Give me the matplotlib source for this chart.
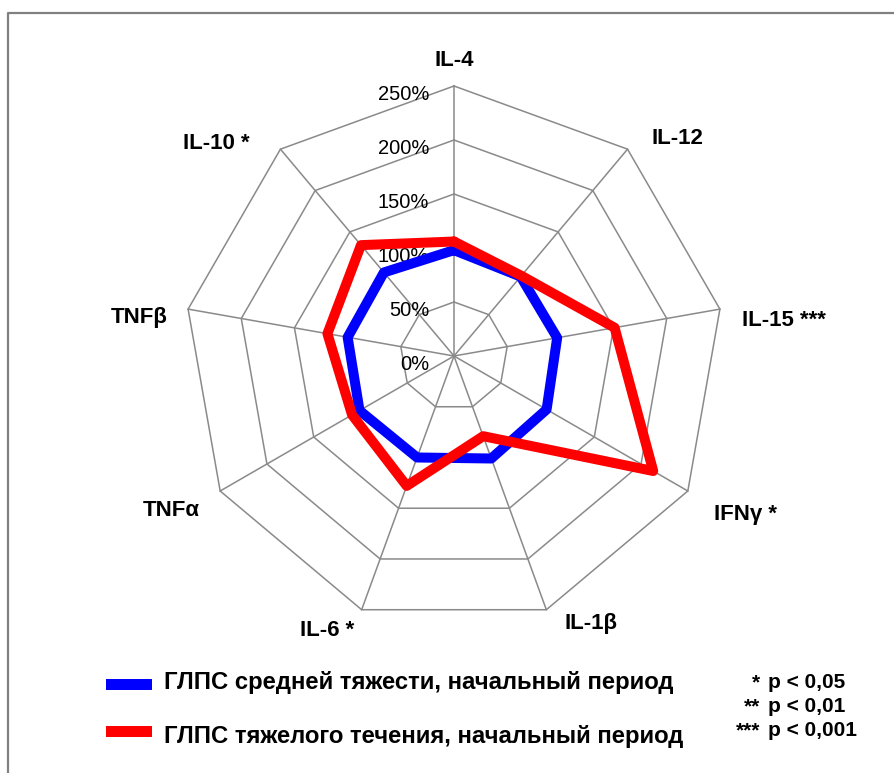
import numpy as np
import matplotlib
matplotlib.use("Agg")
import matplotlib.pyplot as plt
from matplotlib.lines import Line2D
from matplotlib.patches import Rectangle

plt.rcParams['font.family'] = ['Liberation Sans', 'DejaVu Sans']

# Cytokine axes, clockwise from the top
categories = ["IL-4", "IL-12", "IL-15 ***", "IFNγ *", "IL-1β", "IL-6 *", "TNFα", "TNFβ", "IL-10 *"]
# Levels relative to control, %
moderate = [98, 96, 97, 99, 101, 100, 101, 100, 101]
severe = [106, 97, 151, 213, 79, 128, 109, 119, 134]
ring_levels = [0, 50, 100, 150, 200, 250]
ring_labels = ["0%", "50%", "100%", "150%", "200%", "250%"]

series_names = ["ГЛПС средней тяжести, начальный период",
                "ГЛПС тяжелого течения, начальный период"]
pvalue_stars = ["*", "**", "***"]
pvalue_texts = ["p < 0,05", "p < 0,01", "p < 0,001"]

W, H = 895, 773
fig = plt.figure(figsize=(W / 100, H / 100), dpi=100)
fig.patch.set_facecolor("white")

# Axes spanning the figure; one data unit = 1.08 px, radar centre at (454, 356) px
scale = 1.08
cx, cy = 454, 356
ax = fig.add_axes([0, 0, 1, 1])
ax.set_xlim(-cx / scale, (W - cx) / scale)
ax.set_ylim(-(H - cy) / scale, cy / scale)
ax.set_aspect("equal")
ax.axis("off")

n = len(categories)
theta = np.arange(n) * 2 * np.pi / n


def to_xy(values):
    v = np.asarray(values, dtype=float)
    return v * np.sin(theta), v * np.cos(theta)


grid_color = "#8a8a8a"
rmax = ring_levels[-1]
# spokes
for t in theta:
    ax.plot([0, rmax * np.sin(t)], [0, rmax * np.cos(t)], color=grid_color, lw=1.1, zorder=1)
# rings
for lvl in ring_levels[1:]:
    x, y = to_xy([lvl] * n)
    ax.plot(np.append(x, x[0]), np.append(y, y[0]), color=grid_color, lw=1.1, zorder=1)

# ring value labels along the top spoke
for lvl, lab in zip(ring_levels, ring_labels):
    ax.text(-23, lvl - 7.5, lab, ha="right", va="center", fontsize=14.5, color="black", zorder=2)

# data polygons
for vals, col in [(moderate, "#0000ff"), (severe, "#ff0000")]:
    x, y = to_xy(vals)
    ax.plot(np.append(x, x[0]), np.append(y, y[0]), color=col, lw=7.2,
            solid_joinstyle="round", solid_capstyle="round", zorder=3)

# category labels
label_pos = [(0, 274), (207, 201), (305.6, 33.3), (270, -147), (127, -248),
             (-117.6, -254.6), (-262, -143.5), (-291.7, 36.1), (-220.4, 197.2)]
for name, (lx, ly) in zip(categories, label_pos):
    ax.text(lx, ly, name, ha="center", va="center", fontsize=16, fontweight="bold", color="black")


def fpos(px, py):
    return px / W, 1 - py / H


# frame (left and top edges)
fig.add_artist(Line2D([8 / W, 8 / W, 1.01], [-0.01, 1 - 13 / H, 1 - 13 / H],
                      transform=fig.transFigure, color="#808080", lw=1.6))

# legend
for i, (name, col) in enumerate(zip(series_names, ["#0000ff", "#ff0000"])):
    yc = [684, 731][i]
    x0, y0 = fpos(106, yc + 5.5)
    fig.add_artist(Rectangle((x0, y0), 46 / W, 11 / H, transform=fig.transFigure,
                             facecolor=col, edgecolor="none"))
    tx, ty = fpos(164, [683, 737][i])
    fig.text(tx, ty, name, ha="left", va="center", fontsize=17.2, fontweight="bold")

# significance key
for i, (st, pt) in enumerate(zip(pvalue_stars, pvalue_texts)):
    yy = [683, 707, 731][i]
    sx, sy = fpos(760, yy)
    fig.text(sx, sy, st, ha="right", va="center", fontsize=15, fontweight="bold")
    px_, py_ = fpos(768, yy)
    fig.text(px_, py_, pt, ha="left", va="center", fontsize=15, fontweight="bold")

fig.savefig("out.png", dpi=100, facecolor="white")
